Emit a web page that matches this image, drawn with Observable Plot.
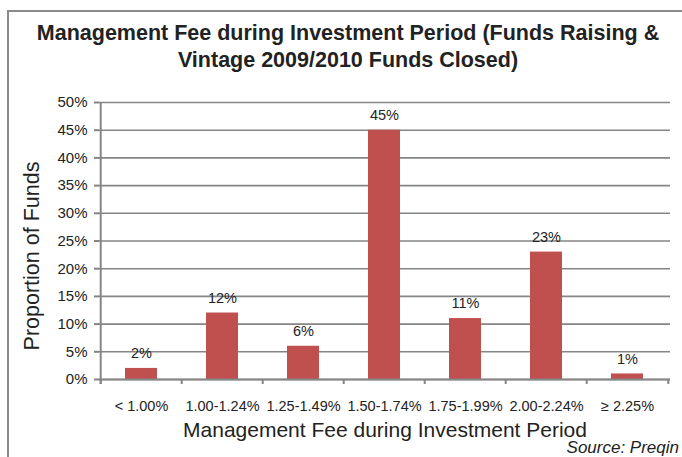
<!DOCTYPE html>
<html><head><meta charset="utf-8">
<script src="https://cdn.jsdelivr.net/npm/d3@7"></script>
<script src="https://cdn.jsdelivr.net/npm/@observablehq/plot@0.6"></script>
<style>
body{margin:0;background:#fff;font-family:"Liberation Sans",Arial,sans-serif;}
#wrap{position:relative;width:682px;height:457px;overflow:hidden;}
#frame{position:absolute;left:7px;top:10px;width:720px;height:480px;border:2px solid #8a8a8a;pointer-events:none;}
#title{position:absolute;left:7px;width:682px;top:20px;text-align:center;font-weight:bold;font-size:21.5px;line-height:27px;color:#222;}
#source{position:absolute;right:3px;top:438px;font-style:italic;font-size:17px;color:#222;}
#chart svg{position:absolute;left:0;top:0;background:transparent;}
</style></head>
<body><div id="wrap"><div id="chart"></div>
<div id="title">Management Fee during Investment Period (Funds Raising &amp;<br>Vintage 2009/2010 Funds Closed)</div>
<div id="source">Source: Preqin</div>
<div id="frame"></div></div>
<script>
const categories = ["< 1.00%","1.00-1.24%","1.25-1.49%","1.50-1.74%","1.75-1.99%","2.00-2.24%","≥ 2.25%"];
const shares = [0.02,0.12,0.06,0.45,0.11,0.23,0.01];
const yTicks = [0,0.05,0.10,0.15,0.20,0.25,0.30,0.35,0.40,0.45,0.50];

const data = categories.map((c,i)=>({cat:c, v:shares[i]}));
const W = 682, H = 457, mL = 99, mR = 12, mT = 102, mB = 78;
const step = (W - mL - mR) / categories.length;
const boundaries = categories.map(c=>({cat:c, off:-step/2})).concat([{cat:categories[categories.length-1], off: step/2}]);
const grey = "#858585";

const chart = Plot.plot({
  width: W, height: H,
  marginLeft: mL, marginRight: mR, marginTop: mT, marginBottom: mB,
  style: {fontFamily: '"Liberation Sans", Arial, sans-serif', background: "transparent", color: "#222"},
  x: {domain: categories, paddingInner: 0.6, paddingOuter: 0.3, label: null},
  y: {domain: [0,0.5], label: null},
  marks: [
    Plot.gridY(yTicks, {stroke: grey, strokeOpacity: 1, strokeWidth: 1.6}),
    Plot.barY(data, {x: "cat", y: "v", fill: "#c0504d"}),
    Plot.text(data, {x: "cat", y: "v", text: d => Math.round(d.v*100)+"%", dy: -15, fontSize: 14.5, fill: "#222"}),
    Plot.ruleY([0], {stroke: grey, strokeWidth: 2}),
    Plot.ruleX([categories[0]], {x: d => d, dx: -step/2, y1: 0.5, y2: 0, insetBottom: -5, stroke: grey, strokeWidth: 2}),
    ...boundaries.map(b => Plot.ruleX([b], {x: "cat", dx: b.off, y1: 0, y2: 0, insetBottom: -5, stroke: grey, strokeWidth: 2})),
    Plot.axisY(yTicks, {tickFormat: d => Math.round(d*100)+"%", tickSize: 5, tickPadding: 7, stroke: grey, strokeWidth: 2, fontSize: 15, fill: "#222", label: null}),
    Plot.axisX({tickSize: 0, tickPadding: 21, fontSize: 14.5, fill: "#222", label: null}),
    Plot.text(["Proportion of Funds"], {frameAnchor: "left", textAnchor: "middle", rotate: -90, dx: -67, dy: 15, fontSize: 21.5, fill: "#222"}),
    Plot.text(["Management Fee during Investment Period"], {frameAnchor: "bottom", dy: 57, fontSize: 21, fill: "#222"})
  ]
});
document.getElementById("chart").appendChild(chart);
</script></body></html>
